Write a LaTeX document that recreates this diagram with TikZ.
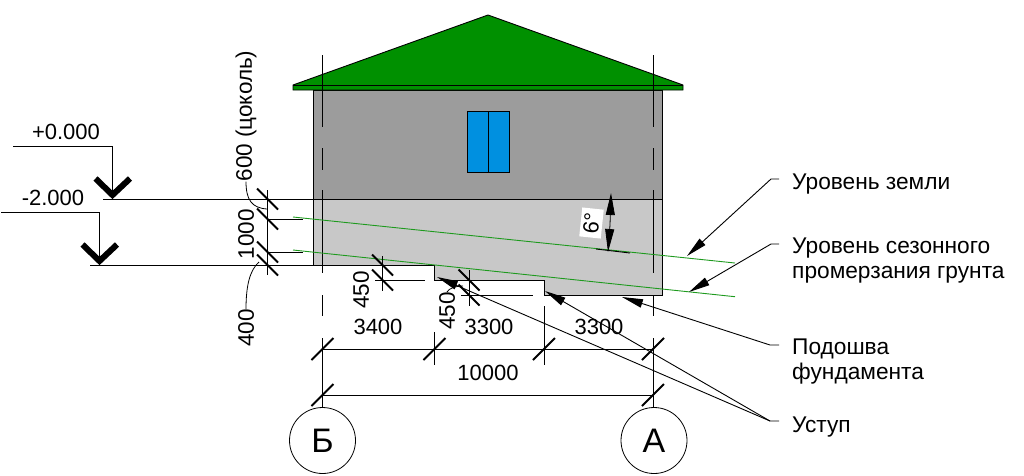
\documentclass[tikz,border=0pt]{standalone}
\usepackage{fontspec}
\setmainfont{Liberation Sans}
\usetikzlibrary{arrows.meta}
\definecolor{roofgreen}{HTML}{009000}
\definecolor{wallgray}{HTML}{9C9C9C}
\definecolor{soilgray}{HTML}{C8C8C8}
\definecolor{winblue}{HTML}{0090E0}
\definecolor{slopegreen}{HTML}{1E9A1E}
\tikzset{
  cad/.style={line width=0.9pt,black},
  thin leader/.style={line width=0.8pt,black},
  arrowleader/.style={line width=0.9pt,black,-{Triangle[length=21pt,width=8.5pt]}},
  tick/.style={line width=2pt,black},
  chevron/.style={line width=6pt,black,miter limit=10},
  slope/.style={line width=0.9pt,slopegreen},
  dimtext/.style={inner sep=0pt,font=\fontsize{22}{25}\selectfont},
  vdimtext/.style={inner sep=0pt,rotate=90,font=\fontsize{22.5}{25}\selectfont},
  note/.style={inner sep=0pt,anchor=west,align=left,font=\fontsize{22.7}{24.5}\selectfont},
  axisbubble/.style={circle,draw,line width=0.8pt,minimum size=66pt,inner sep=0pt,font=\fontsize{34}{34}\selectfont},
}
\newcommand{\bslash}[2]{\draw[tick] (#1-10.5,#2-10.5) -- (#1+10.5,#2+10.5);}
\newcommand{\fslash}[2]{\draw[tick] (#1-11,#2+11) -- (#1+11,#2-11);}
\begin{document}
\begin{tikzpicture}[x=1pt,y=-1pt]
\useasboundingbox (0,0) rectangle (1024,475);
% ground and footing
\fill[soilgray,draw=black,line width=0.9pt] (313.5,199) -- (662,199) -- (662,295) -- (544,295) -- (544,280) -- (434.5,280) -- (434.5,265) -- (313.5,265) -- cycle;
% wall
\draw[cad,fill=wallgray] (313.5,90) rectangle (662,199);
% roof
\draw[cad,fill=roofgreen] (293,85) -- (488,15) -- (683,85) -- (683,90) -- (293,90) -- cycle;
\draw[cad] (293,85) -- (683,85);
% window
\draw[cad,fill=winblue] (467,111) rectangle (509,172);
\draw[cad] (488,111) -- (488,172);
% axes
\foreach \ax in {322.5,653}{
  \draw[cad] (\ax,55) -- (\ax,127);
  \draw[cad] (\ax,148) -- (\ax,170);
  \draw[cad] (\ax,190) -- (\ax,273);
  \draw[cad] (\ax,295) -- (\ax,316);
  \draw[cad] (\ax,338) -- (\ax,408);
}
% levels
\draw[cad] (13,146.5) -- (112.5,146.5) -- (112.5,199);
\draw[cad] (103,199) -- (662,199);
\draw[chevron] (95.5,178.5) -- (112.5,195) -- (130,178.5);
\draw[cad] (1,212.5) -- (99.5,212.5) -- (99.5,265);
\draw[cad] (90,265) -- (434.5,265);
\draw[chevron] (82.5,244.5) -- (99.5,261) -- (117,244.5);
\node[dimtext] (lvlA) at (66,132) {+0.000};
\node[dimtext] (lvlB) at (53,198) {-2.000};
% slope lines
\draw[slope] (293,217) -- (735,263);
\draw[slope] (293,250) -- (735,296.7);
\draw[cad] (596,249) -- (630,253);
% left dims
\draw[cad] (267.5,190) -- (267.5,275);
\draw[cad] (267.5,219) -- (303,219);
\draw[cad] (267.5,252) -- (303,252);
\bslash{267.5}{199}\bslash{267.5}{219}\bslash{267.5}{252}\bslash{267.5}{265}
\node[vdimtext] (d600) at (246,116) {600 (цоколь)};
\node[vdimtext] (d1000) at (246,234) {1000};
\node[vdimtext] (d400) at (246,328) {400};
\draw[thin leader] (d600.west) .. controls (246,200) and (252,208) .. (267,209);
\draw[thin leader] (d400.east) .. controls (246,285) and (250,270) .. (259,262);
% step dims
\draw[cad] (382.5,256) -- (382.5,291);
\draw[cad] (375,280) -- (425,280);
\bslash{382.5}{265}\bslash{382.5}{280}
\node[vdimtext] (dS1) at (361,290) {450};
\draw[cad] (469,270) -- (469,306);
\draw[cad] (461,295) -- (533,295);
\bslash{469}{280}\bslash{469}{295}
\node[vdimtext] (dS2) at (447,311) {450};
\draw[thin leader] (dS2.east) .. controls (449,288) and (456,286) .. (463,286);
% bottom dims
\draw[cad] (434.5,332) -- (434.5,365);
\draw[cad] (544,306) -- (544,365);
\draw[cad] (322.5,349) -- (653,349);
\draw[cad] (322.5,395) -- (653,395);
\fslash{322.5}{349}\fslash{434.5}{349}\fslash{544}{349}\fslash{653}{349}
\fslash{322.5}{395}\fslash{653}{395}
\node[dimtext] (d3400) at (378,327) {3400};
\node[dimtext] (d3300a) at (489,327) {3300};
\node[dimtext] (d3300b) at (599,327) {3300};
\node[dimtext] (d10000) at (488,373) {10000};
% axis bubbles
\node[axisbubble,fill=white] (axB) at (322.5,440.5) {Б};
\node[axisbubble,fill=white] (axA) at (654,440.5) {А};
% angle
\node[fill=white,inner xsep=4pt,inner ysep=3pt,rotate=84,font=\fontsize{22}{25}\selectfont] (ang) at (591.5,223) {6°};
\coordinate (angT) at (611,193);
\coordinate (angM) at (610,225);
\coordinate (angB) at (608,252);
\draw[line width=0.8pt,-{Triangle[length=22pt,width=9pt]}] (angM) -- (angT);
\draw[line width=0.8pt,-{Triangle[length=23pt,width=9pt]}] (angM) -- (angB);
% notes
\node[note] (n1) at (792,184) {Уровень земли};
\node[note] (n2) at (792,260.5) {Уровень сезонного\\промерзания грунта};
\node[note] (n3) at (792,361.5) {Подошва\\фундамента};
\node[note] (n4) at (792,427) {Уступ};
\coordinate (l1) at (779,179);\coordinate (k1) at (771,179);\coordinate (t1) at (687,256);
\coordinate (l2) at (779,244);\coordinate (k2) at (771,244);\coordinate (t2) at (689,292);
\coordinate (l3) at (779,345);\coordinate (k3) at (770,345);\coordinate (t3) at (622,297);
\coordinate (l4) at (779,421);\coordinate (k4) at (770,421);\coordinate (t4) at (545,291);\coordinate (t5) at (437,277);
\draw[arrowleader] (l1) -- (k1) -- (t1);
\draw[arrowleader] (l2) -- (k2) -- (t2);
\draw[arrowleader] (l3) -- (k3) -- (t3);
\draw[arrowleader] (l4) -- (k4) -- (t4);
\draw[arrowleader] (k4) -- (t5);
\end{tikzpicture}
\end{document}
